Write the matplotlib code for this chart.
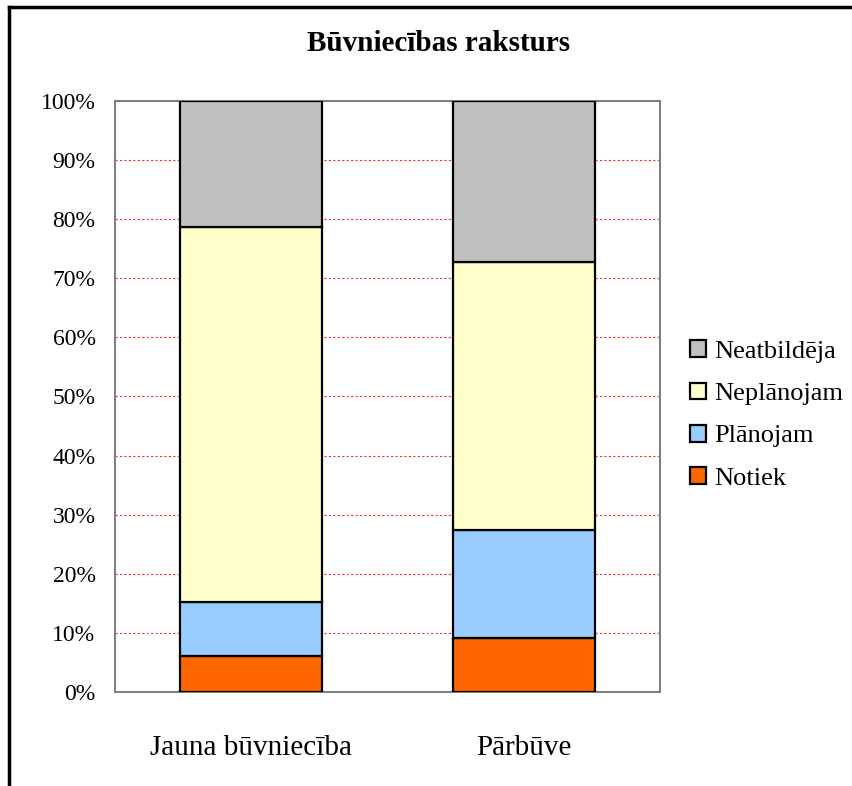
import matplotlib.pyplot as plt
from matplotlib.lines import Line2D

plt.rcParams['font.family'] = ['Liberation Serif', 'DejaVu Serif']

# data (percent)
categories = ['Jauna būvniecība', 'Pārbūve']
series_names = ['Notiek', 'Plānojam', 'Neplānojam', 'Neatbildēja']
notiek = [6.1, 9.1]
planojam = [9.1, 18.3]
neplanojam = [63.5, 45.4]
neatbildeja = [21.3, 27.2]
colors = ['#FF6600', '#99CCFF', '#FFFFCC', '#C0C0C0']

fig = plt.figure(figsize=(8.53, 7.86), dpi=100)
ax = fig.add_axes([0.1348, 0.1196, 0.639, 0.752])

x = range(len(categories))
bottom = [0, 0]
for vals, name, col in zip([notiek, planojam, neplanojam, neatbildeja], series_names, colors):
    ax.bar(x, vals, width=0.52, bottom=bottom, color=col, edgecolor='black',
           linewidth=1.6, label=name, zorder=3)
    bottom = [b + v for b, v in zip(bottom, vals)]

ax.set_xlim(-0.5, 1.5)
ax.set_ylim(0, 100)
ax.set_yticks(range(0, 101, 10))
ax.set_yticklabels([f'{t}%' for t in range(0, 101, 10)], fontsize=17)
ax.set_xticks(list(x))
ax.set_xticklabels(categories, fontsize=21)
ax.tick_params(axis='x', length=0, pad=31)
ax.tick_params(axis='y', length=0, pad=14)

for t in range(10, 100, 10):
    ax.axhline(t, color='#FF3030', linestyle=(0, (2, 2)), linewidth=0.8, zorder=1)

for s in ax.spines.values():
    s.set_color('#808080')
    s.set_linewidth(1.5)

fig.text(0.514, 0.945, 'Būvniecības raksturs', fontsize=21, fontweight='bold',
         ha='center', va='center')

handles, labels = ax.get_legend_handles_labels()
leg = fig.legend(handles[::-1], labels[::-1], loc='center left',
                 bbox_to_anchor=(0.797, 0.472), frameon=False, fontsize=19,
                 handlelength=0.6, handleheight=0.6, handletextpad=0.3,
                 labelspacing=0.74, borderaxespad=0)

# outer border (top and left only)
fig.add_artist(Line2D([0.0106, 1.0], [0.991, 0.991], color='black', linewidth=2.5,
                      transform=fig.transFigure))
fig.add_artist(Line2D([0.0106, 0.0106], [0.0, 0.991], color='black', linewidth=2.5,
                      transform=fig.transFigure))

fig.savefig('out.png', dpi=100)
